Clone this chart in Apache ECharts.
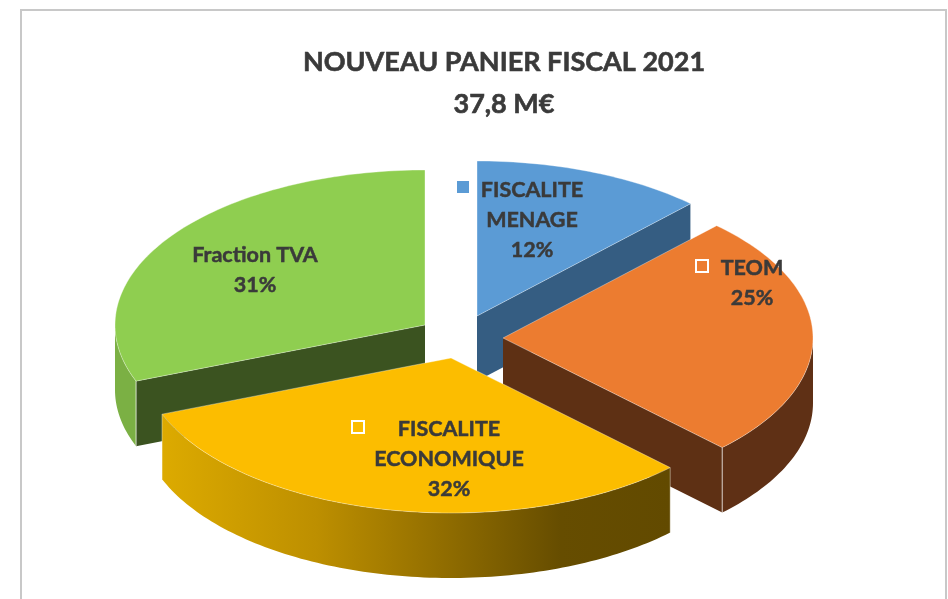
<!DOCTYPE html>
<html>
<head>
<meta charset="utf-8">
<title>Nouveau panier fiscal 2021</title>
<script src="https://cdn.jsdelivr.net/npm/echarts@6/dist/echarts.min.js"></script>
<style>
  html, body { margin: 0; padding: 0; background: #fff; }
  #chart { width: 948px; height: 599px; }
</style>
</head>
<body>
<div id="chart"></div>
<script>
const titleLines = ['NOUVEAU PANIER FISCAL 2021', '37,8 M€']
const sliceNames = ['FISCALITE\nMENAGE', 'TEOM', 'FISCALITE\nECONOMIQUE', 'Fraction TVA']
// shares in %, a bit finer than the printed labels
const sliceValues = [12.1, 25.4, 31.6, 30.9]

// layout of the tilted pie
const radiusX = 310
const radiusY = 155
const depth = 65
const apexX = [477, 503, 451, 425]
const apexY = [316, 338, 358, 325]
const labelX = [532, 752, 449, 255]
const labelY = [220, 283, 459, 270]
const keyX = [463, 702, 358, null]
const keyY = [187, 266, 427, null]
const paintOrder = [0, 1, 3, 2]

const topColors = ['#5b9bd5', '#ec7c30', '#fcbd00', '#8fce50']
const cutColors = ['#355d82', '#5e3014', '#644c00', '#3b5320']
const wallGradient = new echarts.graphic.LinearGradient(164, 0, 672, 0, [
  { offset: 0, color: '#dcaa00' },
  { offset: 0.3, color: '#bd8f00' },
  { offset: 0.5, color: '#9a7400' },
  { offset: 0.78, color: '#664d00' },
  { offset: 1, color: '#624a00' }
], true)
const wallColors = ['#355d82', '#5f3015', wallGradient, '#7bb044']
const inkColor = '#3a3a3a'

const total = sliceValues.reduce((a, b) => a + b, 0)
const rad = (v) => (v / total) * Math.PI * 2

const rimPoint = (i, t, drop) => [
  apexX[i] + radiusX * Math.sin(t),
  apexY[i] - radiusY * Math.cos(t) + drop
]

const arcPoints = (i, from, to, drop) => {
  const steps = Math.max(2, Math.ceil((to - from) / 0.02))
  const pts = []
  for (let k = 0; k <= steps; k++) {
    pts.push(rimPoint(i, from + ((to - from) * k) / steps, drop))
  }
  return pts
}

const poly = (points, fill, z2, extra) => ({
  type: 'polygon',
  z2: z2,
  shape: { points: points },
  style: Object.assign({ fill: fill }, extra)
})

const cornerLine = (i, t, z2) => {
  const a = rimPoint(i, t, 0)
  const b = rimPoint(i, t, depth)
  return {
    type: 'line',
    z2: z2,
    shape: { x1: a[0], y1: a[1], x2: b[0], y2: b[1] },
    style: { stroke: 'rgba(255,255,255,0.4)', lineWidth: 1 }
  }
}

const renderSlice = (params, api) => {
  const i = params.dataIndex
  let start = 0
  for (let k = 0; k < i; k++) start += rad(sliceValues[k])
  const end = start + rad(sliceValues[i])
  const z = paintOrder.indexOf(i) * 10
  const apex = [apexX[i], apexY[i]]
  const apexLow = [apexX[i], apexY[i] + depth]
  const children = []

  // cut faces: only those turned towards the viewer
  if (Math.sin(end) > 0.01) {
    children.push(poly([apex, rimPoint(i, end, 0), rimPoint(i, end, depth), apexLow], cutColors[i], z + 1))
    children.push(cornerLine(i, end, z + 3))
  }
  if (Math.sin(start) < -0.01) {
    children.push(poly([apex, rimPoint(i, start, 0), rimPoint(i, start, depth), apexLow], cutColors[i], z + 1))
    children.push(cornerLine(i, start, z + 3))
  }

  // outer wall: the front half of the rim
  const from = Math.max(start, Math.PI / 2)
  const to = Math.min(end, (Math.PI * 3) / 2)
  if (to > from) {
    const upper = arcPoints(i, from, to, 0)
    const lower = arcPoints(i, from, to, depth).reverse()
    children.push(poly(upper.concat(lower), wallColors[i], z + 2))
    if (from === start) children.push(cornerLine(i, start, z + 3))
    if (to === end) children.push(cornerLine(i, end, z + 3))
  }

  // top face
  children.push(poly([apex].concat(arcPoints(i, start, end, 0)), topColors[i], z + 4, {
    stroke: 'rgba(255,255,255,0.35)',
    lineWidth: 1
  }))

  // label, printed with the rounded share
  children.push({
    type: 'text',
    z2: 100,
    style: {
      x: labelX[i],
      y: labelY[i],
      text: sliceNames[i] + '\n' + Math.round(sliceValues[i]) + '%',
      align: 'center',
      verticalAlign: 'middle',
      fill: inkColor,
      stroke: inkColor,
      lineWidth: 0.5,
      font: 'bold 21.5px Lato',
      lineHeight: 30
    }
  })

  // legend key next to the label
  if (keyX[i] !== null) {
    children.push({
      type: 'rect',
      z2: 100,
      shape: { x: keyX[i] - 6, y: keyY[i] - 6, width: 12, height: 12 },
      style: i === 0 ? { fill: topColors[0] } : { fill: 'transparent', stroke: '#fff', lineWidth: 2 }
    })
  }

  return { type: 'group', children: children }
}

const chart = echarts.init(document.getElementById('chart'), null, { renderer: 'canvas' })
chart.setOption({
  animation: false,
  backgroundColor: '#fff',
  title: {
    text: titleLines.join('\n'),
    left: 499,
    top: 36,
    textAlign: 'center',
    textStyle: {
      fontFamily: 'Lato',
      fontWeight: 'bold',
      fontSize: 27,
      lineHeight: 42,
      color: inkColor,
      textBorderColor: inkColor,
      textBorderWidth: 0.6
    }
  },
  graphic: [
    {
      type: 'rect',
      silent: true,
      shape: { x: 21, y: 10, width: 925, height: 620 },
      style: { fill: 'transparent', stroke: '#c8c8c8', lineWidth: 2 }
    }
  ],
  series: [
    {
      type: 'custom',
      coordinateSystem: 'none',
      silent: true,
      clip: false,
      renderItem: renderSlice,
      data: sliceValues
    }
  ]
})
</script>
</body>
</html>
